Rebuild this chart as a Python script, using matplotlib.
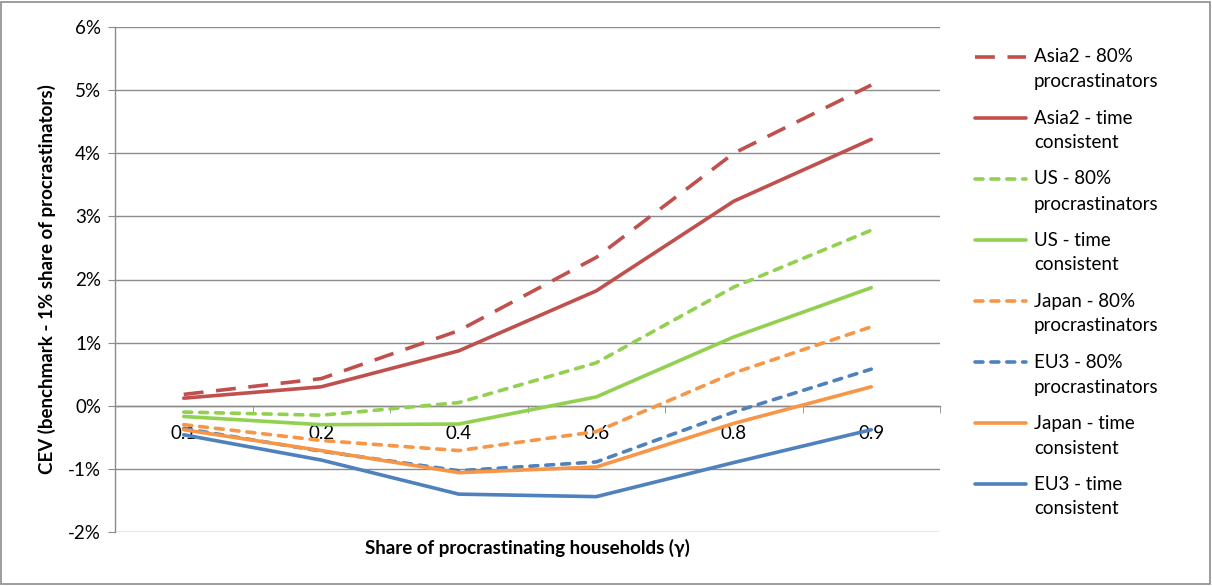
import matplotlib
matplotlib.use("Agg")
import matplotlib.pyplot as plt
from matplotlib.lines import Line2D
from matplotlib.patches import Rectangle
from matplotlib.ticker import FixedLocator, FuncFormatter

plt.rcParams['font.family'] = ['Lato', 'DejaVu Sans']

categories = ["0.1", "0.2", "0.4", "0.6", "0.8", "0.9"]

asia2_80 = [0.18, 0.43, 1.19, 2.35, 4.00, 5.08]
asia2_tc = [0.12, 0.30, 0.87, 1.82, 3.24, 4.22]
us_80 = [-0.10, -0.15, 0.05, 0.68, 1.88, 2.78]
us_tc = [-0.17, -0.30, -0.29, 0.14, 1.09, 1.87]
japan_80 = [-0.30, -0.55, -0.71, -0.41, 0.52, 1.25]
eu3_80 = [-0.36, -0.72, -1.03, -0.89, -0.10, 0.58]
japan_tc = [-0.38, -0.71, -1.06, -0.97, -0.28, 0.30]
eu3_tc = [-0.46, -0.86, -1.40, -1.44, -0.90, -0.38]

y_ticks = [-2, -1, 0, 1, 2, 3, 4, 5, 6]

RED = "#C0504D"
GREEN = "#92D050"
ORANGE = "#F79646"
BLUE = "#4F81BD"
GRID = "#8C8C8C"
FS = 13.5

LONG_DASH = (0, (5.5, 3.5))
SHORT_DASH = (0, (2.2, 2.2))

series = [
    ("Asia2 - 80%\nprocrastinators", asia2_80, RED, LONG_DASH, "butt"),
    ("Asia2 - time\nconsistent", asia2_tc, RED, "-", "butt"),
    ("US - 80%\nprocrastinators", us_80, GREEN, SHORT_DASH, "round"),
    ("US - time\nconsistent", us_tc, GREEN, "-", "round"),
    ("Japan - 80%\nprocrastinators", japan_80, ORANGE, SHORT_DASH, "round"),
    ("EU3 - 80%\nprocrastinators", eu3_80, BLUE, SHORT_DASH, "round"),
    ("Japan - time\nconsistent", japan_tc, ORANGE, "-", "round"),
    ("EU3 - time\nconsistent", eu3_tc, BLUE, "-", "round"),
]

W, H = 1212, 586
fig = plt.figure(figsize=(W / 100, H / 100), dpi=100)
ax = fig.add_axes([115 / W, 1 - 532 / H, 825 / W, 505 / H])

x = list(range(len(categories)))
for label, vals, color, ls, cap in series:
    ax.plot(x, vals, color=color, lw=2.6, linestyle=ls,
            dash_capstyle=cap, solid_capstyle="round", zorder=3)

ax.set_xlim(-0.5, len(categories) - 0.5)
ax.set_ylim(-2, 6)
ax.yaxis.set_major_locator(FixedLocator(y_ticks))
ax.yaxis.set_major_formatter(FuncFormatter(lambda v, p: f"{int(round(v))}%"))
ax.grid(axis="y", color=GRID, lw=1.0, zorder=0)
ax.set_axisbelow(True)

for s in ["top", "right"]:
    ax.spines[s].set_visible(False)
ax.spines["left"].set_color(GRID)
ax.spines["left"].set_linewidth(1.0)
ax.spines["bottom"].set_position(("data", 0))
ax.spines["bottom"].set_color(GRID)
ax.spines["bottom"].set_linewidth(1.0)

ax.set_xticks(x)
ax.set_xticklabels(categories)
ax.set_xticks([i + 0.5 for i in range(-1, len(categories))], minor=True)
ax.tick_params(axis="x", which="major", length=0, pad=14, labelsize=FS, colors="black")
ax.tick_params(axis="x", which="minor", length=5, direction="out", color=GRID)
ax.tick_params(axis="y", length=5, direction="out", color=GRID, labelsize=FS, pad=5)

ax.set_xlabel("Share of procrastinating households (γ)", fontsize=FS, fontweight="bold")
ax.xaxis.set_label_coords(0.5, -0.013)
ax.set_ylabel("CEV (benchmark - 1% share of procrastinators)", fontsize=FS, fontweight="bold")
ax.yaxis.set_label_coords(-0.0715, 0.5)

# legend: handle aligned with the first line of each two-line label
for i, (label, vals, color, ls, cap) in enumerate(series):
    yc = 57 + 61 * i
    yf = 1 - yc / H
    fig.add_artist(Line2D([975 / W, 1026 / W], [yf, yf], transform=fig.transFigure,
                          color=color, lw=2.6, linestyle=ls, dash_capstyle=cap,
                          solid_capstyle="round"))
    first, second = label.split("\n")
    fig.text(1034 / W, yf, first, fontsize=FS, va="center", ha="left")
    fig.text(1034 / W, 1 - (yc + 25) / H, second, fontsize=FS, va="center", ha="left")

fig.patches.append(Rectangle((0.001, 0.003), 0.997, 0.993, transform=fig.transFigure,
                             fill=False, edgecolor=GRID, lw=1.2))

fig.savefig("out.png", dpi=100)
